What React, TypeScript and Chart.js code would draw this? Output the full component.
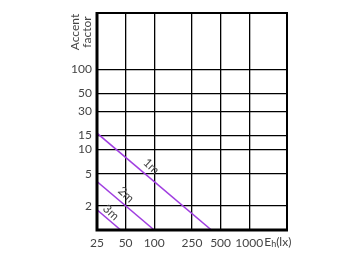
import React, { useEffect, useRef } from "react";
import { Chart, registerables } from "chart.js";

Chart.register(...registerables);

const xTicks = [25, 50, 100, 250, 500, 1000];
const yTicks = [2, 5, 10, 15, 30, 50, 100];
const series1m = [
  { x: 25, y: 16 },
  { x: 400, y: 1 },
];
const series2m = [
  { x: 25, y: 4 },
  { x: 100, y: 1 },
];
const series3m = [
  { x: 25, y: 1.78 },
  { x: 44.4, y: 1 },
];
const lineLabels = [
  { text: "1m", x: 93, y: 6.2 },
  { text: "2m", x: 50.5, y: 2.75 },
  { text: "3m", x: 35, y: 1.66 },
];
const yTitle = ["Accent", "factor"];
const xUnit = { main: "E", sub: "h", rest: "(lx)" };

const FONT = "Lato, 'Open Sans', sans-serif";
const TEXT = "#444";
const PURPLE = "#a03ee0";

const decorPlugin = {
  id: "decor",
  afterDatasetsDraw(chart: any) {
    const { ctx, chartArea, scales } = chart;
    const { left, right, top, bottom } = chartArea;
    ctx.save();
    ctx.strokeStyle = "#000";
    ctx.lineWidth = 2;
    ctx.beginPath();
    ctx.moveTo(left, top);
    ctx.lineTo(right, top);
    ctx.lineTo(right, bottom);
    ctx.stroke();
    ctx.lineWidth = 3;
    ctx.beginPath();
    ctx.moveTo(left, top - 1);
    ctx.lineTo(left, bottom);
    ctx.lineTo(right + 1, bottom);
    ctx.stroke();

    // line labels
    ctx.fillStyle = TEXT;
    ctx.font = `12px ${FONT}`;
    ctx.textAlign = "center";
    ctx.textBaseline = "middle";
    for (const l of lineLabels) {
      const px = scales.x.getPixelForValue(l.x);
      const py = scales.y.getPixelForValue(l.y);
      ctx.save();
      ctx.translate(px, py);
      ctx.rotate((43 * Math.PI) / 180);
      ctx.fillText(l.text, 0, 0);
      ctx.restore();
    }

    // y title
    ctx.save();
    ctx.font = `12px ${FONT}`;
    ctx.translate(left - 22, top + 19);
    ctx.rotate(-Math.PI / 2);
    ctx.fillText(yTitle[0], 0, 0);
    ctx.fillText(yTitle[1], 0, 12);
    ctx.restore();

    // x unit
    const lastPx = scales.x.getPixelForValue(xTicks[xTicks.length - 1]);
    const yl = bottom + 12;
    ctx.textAlign = "left";
    ctx.font = `12px ${FONT}`;
    let cx = lastPx + 15;
    ctx.fillText(xUnit.main, cx, yl);
    cx += ctx.measureText(xUnit.main).width;
    ctx.font = `9px ${FONT}`;
    ctx.fillText(xUnit.sub, cx, yl + 2);
    cx += ctx.measureText(xUnit.sub).width;
    ctx.font = `12px ${FONT}`;
    ctx.fillText(xUnit.rest, cx, yl);
    ctx.restore();
  },
};

export default function App() {
  const ref = useRef<HTMLCanvasElement | null>(null);
  useEffect(() => {
    document.body.style.margin = "0";
    const ds = (data: any) => ({
      data,
      borderColor: PURPLE,
      borderWidth: 1.5,
      pointRadius: 0,
      fill: false,
    });
    const chart = new Chart(ref.current!, {
      type: "line",
      data: { datasets: [ds(series1m), ds(series2m), ds(series3m)] },
      options: {
        animation: false,
        responsive: false,
        layout: { padding: { left: 0, right: 73, top: 13, bottom: 0 } },
        plugins: { legend: { display: false }, tooltip: { enabled: false } },
        scales: {
          x: {
            type: "logarithmic",
            min: 25,
            max: 2500,
            afterBuildTicks: (s: any) => {
              s.ticks = xTicks.map((v) => ({ value: v }));
            },
            afterFit: (s: any) => {
              s.height = 32;
            },
            grid: { color: "#000", lineWidth: 1.3, drawTicks: false },
            border: { display: false },
            ticks: {
              autoSkip: false,
              maxRotation: 0,
              padding: 6,
              color: TEXT,
              font: { family: FONT, size: 12 },
              callback: (v: any) => String(v),
            },
          },
          y: {
            type: "logarithmic",
            min: 1,
            max: 500,
            afterBuildTicks: (s: any) => {
              s.ticks = yTicks.map((v) => ({ value: v }));
            },
            afterFit: (s: any) => {
              s.width = 97;
            },
            grid: { color: "#000", lineWidth: 1.3, drawTicks: false },
            border: { display: false },
            ticks: {
              autoSkip: false,
              padding: 5,
              color: TEXT,
              font: { family: FONT, size: 12 },
              callback: (v: any) => String(v),
            },
          },
        },
      },
      plugins: [decorPlugin],
    });
    return () => chart.destroy();
  }, []);
  return <canvas ref={ref} width={360} height={262} style={{ display: "block" }} />;
}
